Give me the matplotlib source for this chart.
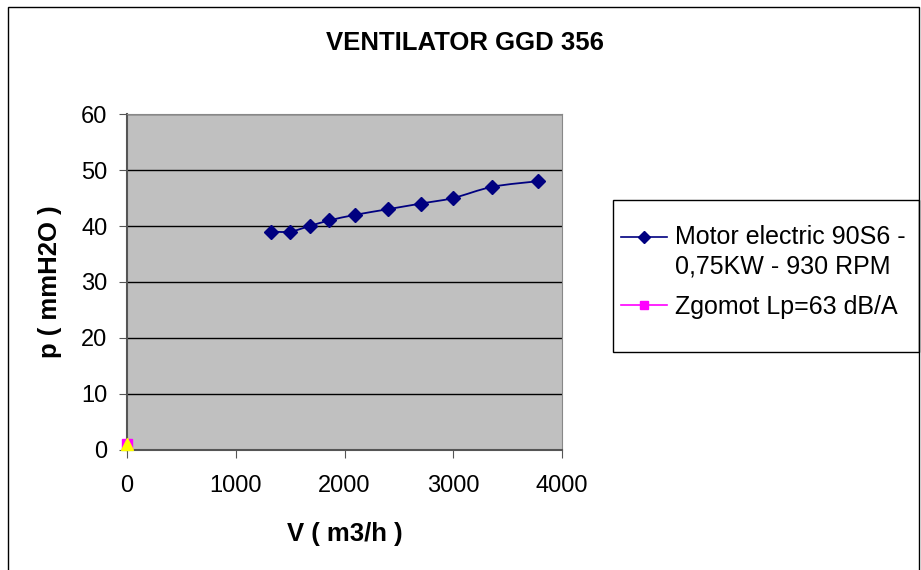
import numpy
import matplotlib
matplotlib.use('Agg')
import matplotlib.pylab as plot
from matplotlib.path import Path
from matplotlib.patches import PathPatch, Rectangle
from matplotlib.lines import Line2D
from matplotlib.legend_handler import HandlerLine2D

plot.rcParams['font.family'] = ['Liberation Sans', 'DejaVu Sans']

# Data
debit = [1320, 1500, 1680, 1860, 2100, 2400, 2700, 3000, 3360, 3780]   # V ( m3/h )
presiune = [39, 39, 40, 41, 42, 43, 44, 45, 47, 48]                    # p ( mmH2O )
zgomot_x = [0]
zgomot_y = [1]
extra_x = [0]
extra_y = [1]

titlu = 'VENTILATOR GGD 356'
eticheta_motor = 'Motor electric 90S6 -\n0,75KW - 930 RPM'
eticheta_zgomot = 'Zgomot Lp=63 dB/A'

##########################################################################################

def smoothPath(xs, ys):
    # Excel style smoothed line (Catmull-Rom converted to cubic Bezier)
    pts = numpy.column_stack([xs, ys]).astype(float)
    verts = [pts[0]]
    codes = [Path.MOVETO]
    n = len(pts)
    for i in range(n - 1):
        p0 = pts[max(i - 1, 0)]
        p1 = pts[i]
        p2 = pts[i + 1]
        p3 = pts[min(i + 2, n - 1)]
        c1 = p1 + (p2 - p0) / 6.0
        c2 = p2 - (p3 - p1) / 6.0
        verts += [c1, c2, p2]
        codes += [Path.CURVE4] * 3
    return Path(verts, codes)


class HandlerFirstLine(HandlerLine2D):
    # put the legend handle next to the first line of a two line label
    def __init__(self, dy=0, **kw):
        HandlerLine2D.__init__(self, **kw)
        self.dy = dy

    def create_artists(self, legend, orig_handle, xdescent, ydescent, width, height, fontsize, trans):
        arts = HandlerLine2D.create_artists(self, legend, orig_handle, xdescent, ydescent, width, height, fontsize, trans)
        for a in arts:
            a.set_ydata(numpy.asarray(a.get_ydata(), dtype=float) + self.dy)
        return arts

##########################################################################################

W = 921.
H = 570.
f = plot.figure(figsize=(9.21, 5.70), dpi=100)

# Chart border
f.patches.append(Rectangle((8 / W, -0.01), 911 / W, 1 - 7 / H + 0.01, transform=f.transFigure,
                           fill=False, edgecolor='black', linewidth=1.0))

ax = f.add_axes([127 / W, 1 - 450 / H, 435 / W, 336 / H])
ax.set_facecolor('#c0c0c0')

ax.set_xlim(0, 4000)
ax.set_ylim(0, 60)
ax.set_xticks([0, 1000, 2000, 3000, 4000])
ax.set_yticks([0, 10, 20, 30, 40, 50, 60])

for y in [10, 20, 30, 40, 50, 60]:
    ax.axhline(y, color='black', linewidth=1.0, zorder=1)

ax.spines['left'].set_color('#555555')
ax.spines['bottom'].set_color('#555555')
ax.spines['left'].set_linewidth(1.5)
ax.spines['bottom'].set_linewidth(1.5)
ax.spines['right'].set_color('#888888')
ax.spines['top'].set_color('#888888')
ax.tick_params(axis='both', direction='out', length=6, color='#555555', labelsize=17)
ax.tick_params(axis='y', pad=8)
ax.tick_params(axis='x', pad=12)

# Smoothed curve + markers
ax.add_patch(PathPatch(smoothPath(debit, presiune), facecolor='none', edgecolor='#000080', linewidth=1.3, zorder=3))
ax.plot(debit, presiune, linestyle='none', marker='D', markersize=7, color='#000080', zorder=4, clip_on=False)

ax.plot(zgomot_x, zgomot_y, linestyle='none', marker='s', markersize=7, color='#ff00ff', zorder=5, clip_on=False)
ax.plot(extra_x, extra_y, linestyle='none', marker='^', markersize=9, color='#ffff00', zorder=6, clip_on=False)

ax.set_xlabel('V ( m3/h )', fontsize=18.5, fontweight='bold', labelpad=18)
ax.set_ylabel('p ( mmH2O )', fontsize=18.5, fontweight='bold', labelpad=14)
f.text(465 / W, 1 - 43 / H, titlu, fontsize=18.5, fontweight='bold', ha='center', va='center')

# Legend
f.patches.append(Rectangle((613 / W, 1 - 352 / H), 306 / W, 152 / H, transform=f.transFigure,
                           fill=False, edgecolor='black', linewidth=1.0))
h_motor = Line2D([], [], color='#000080', marker='D', markersize=6, linewidth=1.2)
h_zgomot = Line2D([], [], color='#ff00ff', marker='s', markersize=6, linewidth=1.2)
leg = f.legend([h_motor, h_zgomot], [eticheta_motor, eticheta_zgomot], loc='upper left',
               bbox_to_anchor=(621 / W, 1 - 225 / H), fontsize=18, frameon=False,
               handlelength=1.85, handletextpad=0.32, borderpad=0, labelspacing=0.65,
               borderaxespad=0, handler_map={h_motor: HandlerFirstLine(dy=11)})
for t in leg.get_texts():
    t.set_linespacing(1.3)

plot.savefig('out.png', dpi=100)
plot.close()
